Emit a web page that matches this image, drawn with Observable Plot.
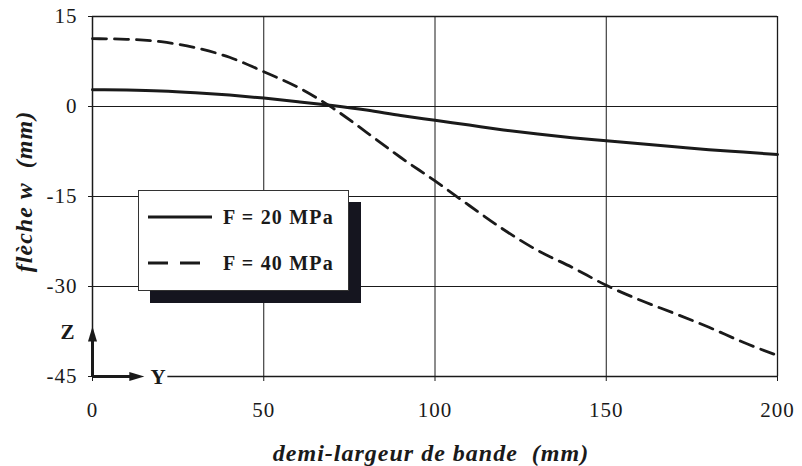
<!DOCTYPE html>
<html><head><meta charset="utf-8">
<script src="https://cdn.jsdelivr.net/npm/d3@7"></script>
<script src="https://cdn.jsdelivr.net/npm/@observablehq/plot@0.6"></script>
<style>
body{margin:0;background:#fff;}
#wrap{position:relative;width:802px;height:466px;font-family:"Liberation Serif","Times New Roman",serif;}
#legend{position:absolute;left:138px;top:190px;width:209px;height:99px;border:1px solid #333;background:#fff;box-shadow:12px 12px 0 #15151f;}
.row{position:absolute;left:9px;height:24px;display:flex;align-items:center;font-weight:bold;font-size:20px;letter-spacing:1.2px;color:#1a1a1a;white-space:pre;}
.row svg{margin-right:11px;}
</style></head><body><div id="wrap"></div>
<script>
// half-width of the strip (mm)
const halfWidth = [0, 10, 20, 30, 40, 50, 60, 70, 80, 90, 100, 110, 120, 130, 140, 150, 160, 170, 180, 190, 200];
// deflection w (mm), F = 20 MPa
const w20 = [2.8, 2.75, 2.6, 2.3, 1.9, 1.4, 0.8, 0.15, -0.6, -1.5, -2.3, -3.1, -3.9, -4.6, -5.2, -5.7, -6.2, -6.7, -7.2, -7.6, -8.0];
// deflection w (mm), F = 40 MPa
const w40 = [11.3, 11.2, 10.8, 9.8, 8.2, 5.8, 3.2, -0.2, -4.3, -8.5, -12.4, -16.5, -20.5, -24.0, -26.8, -29.8, -32.3, -34.5, -36.8, -39.3, -41.5];
const seriesNames = ["F = 20 MPa", "F = 40 MPa"];
const xTicks = [0, 50, 100, 150, 200];
const yTicks = [-45, -30, -15, 0, 15];
const xGrid = [50, 100, 150];
const yGrid = [-30, -15, 0];
const xTitle = "demi-largeur de bande\u00a0 (mm)";
const yTitle = "flèche w\u00a0 (mm)";

const data = [
  ...halfWidth.map((x, i) => ({x, w: w20[i], s: seriesNames[0]})),
  ...halfWidth.map((x, i) => ({x, w: w40[i], s: seriesNames[1]}))
];
const xMin = xTicks[0], xMax = xTicks[xTicks.length - 1];
const yMin = yTicks[0], yMax = yTicks[yTicks.length - 1];
const ink = "#1a1a1a";

const headUp = {draw(ctx) { ctx.moveTo(0, -8); ctx.lineTo(4.5, 7); ctx.lineTo(-4.5, 7); ctx.closePath(); }};
const headRight = {draw(ctx) { ctx.moveTo(8, 0); ctx.lineTo(-7, 4.5); ctx.lineTo(-7, -4.5); ctx.closePath(); }};
const zHead = yMin + 7;   // arrow heads of the Z / Y orientation marker
const yHead = xMin + 12.8;

const chart = Plot.plot({
  width: 802, height: 466,
  marginLeft: 92, marginRight: 25, marginTop: 16, marginBottom: 90,
  x: {domain: [xMin, xMax], label: null},
  y: {domain: [yMin, yMax], label: null},
  style: {fontFamily: "'Liberation Serif', serif", fontSize: "21px", color: ink, background: "#fff", letterSpacing: "1px"},
  marks: [
    Plot.ruleX(xGrid, {y1: yMin, y2: yMax, stroke: ink, strokeWidth: 1}),
    Plot.ruleY(yGrid, {x1: xMin, x2: xMax, stroke: ink, strokeWidth: 1}),
    Plot.ruleY([yMax], {x1: xMin, x2: xMax, stroke: ink, strokeWidth: 1.3}),
    Plot.ruleX([xMax], {y1: yMin, y2: yMax, stroke: ink, strokeWidth: 1.3}),
    Plot.ruleX([xMin], {y1: zHead, y2: yMax, stroke: ink, strokeWidth: 1.5}),
    Plot.ruleY([yMin], {x1: xMin + 22, x2: xMax, stroke: ink, strokeWidth: 1.5}),
    Plot.axisX({ticks: xTicks, tickSize: 5, tickPadding: 21, tickFormat: d => String(d), fontSize: 21, label: null}),
    Plot.axisY({ticks: yTicks, tickSize: 4, tickPadding: 11, tickFormat: d => String(d), fontSize: 21, label: null}),
    Plot.line(data.filter(d => d.s === seriesNames[0]), {x: "x", y: "w", stroke: ink, strokeWidth: 3, curve: "monotone-x"}),
    Plot.line(data.filter(d => d.s === seriesNames[1]), {x: "x", y: "w", stroke: ink, strokeWidth: 2.8, strokeDasharray: "14,8", curve: "monotone-x"}),
    // orientation marker
    Plot.link([0], {x1: xMin, y1: yMin, x2: xMin, y2: zHead, stroke: ink, strokeWidth: 3}),
    Plot.link([0], {x1: xMin, y1: yMin, x2: yHead, y2: yMin, stroke: ink, strokeWidth: 3}),
    Plot.dot([0], {x: xMin, y: zHead, symbol: headUp, fill: ink, stroke: "none"}),
    Plot.dot([0], {x: yHead, y: yMin, symbol: headRight, fill: ink, stroke: "none"}),
    Plot.text(["Z"], {frameAnchor: "bottom-left", textAnchor: "start", lineAnchor: "bottom", dx: -32, dy: -38, fontWeight: "bold", fontSize: 21, fill: ink}),
    Plot.text(["Y"], {frameAnchor: "bottom-left", textAnchor: "start", lineAnchor: "bottom", dx: 58, dy: 7, fontWeight: "bold", fontSize: 21, fill: ink}),
    Plot.text([xTitle], {frameAnchor: "bottom", textAnchor: "middle", lineAnchor: "bottom", dx: -4, dy: 84, fontWeight: "bold", fontStyle: "italic", fontSize: 24, fill: ink}),
    Plot.text([yTitle], {frameAnchor: "left", textAnchor: "middle", lineAnchor: "middle", dx: -68, dy: -5, rotate: -90, fontWeight: "bold", fontStyle: "italic", fontSize: 24, fill: ink})
  ]
});
const wrap = document.getElementById("wrap");
wrap.appendChild(chart);

const legend = document.createElement("div");
legend.id = "legend";
const dashes = ["none", "20,12"];
const sampleLen = [64, 52];
seriesNames.forEach((name, i) => {
  const row = document.createElement("div");
  row.className = "row";
  row.style.top = (i === 0 ? 14 : 60) + "px";
  row.innerHTML = `<svg width="64" height="10"><line x1="0" x2="${sampleLen[i]}" y1="5" y2="5" stroke="${ink}" stroke-width="3" stroke-dasharray="${dashes[i]}"/></svg><span>${name}</span>`;
  legend.appendChild(row);
});
wrap.appendChild(legend);
</script>
</body></html>
